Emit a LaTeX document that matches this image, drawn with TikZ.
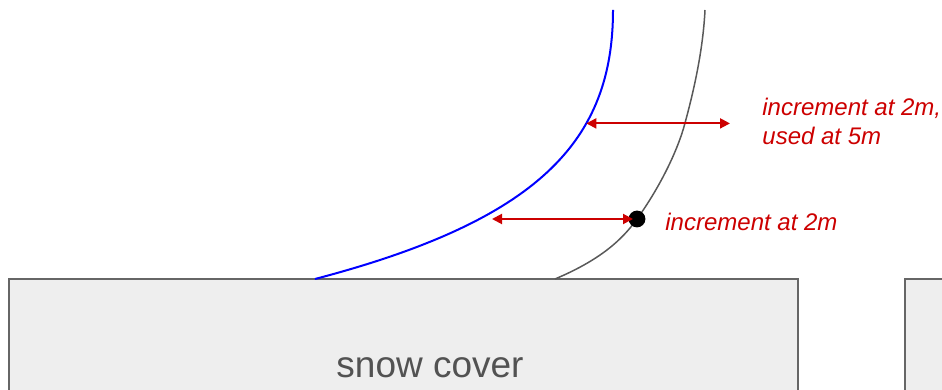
\documentclass[tikz,border=0pt]{standalone}
\usepackage{fontspec}
\setmainfont{Liberation Sans}
\usetikzlibrary{arrows.meta}
\definecolor{incred}{HTML}{CC0000}
\definecolor{boxgray}{HTML}{EEEEEE}
\definecolor{edgegray}{HTML}{666666}
\definecolor{curvegray}{HTML}{595959}
\tikzset{
  incarrow/.style={{Triangle[length=5pt,width=5pt]}-{Triangle[length=5pt,width=5pt]}, incred, line width=1pt},
  inclabel/.style={anchor=west, align=left, text=incred, font=\fontsize{12}{14.5}\selectfont\itshape, inner sep=0pt},
  snowbox/.style={fill=boxgray, draw=edgegray, line width=0.75pt}
}
\begin{document}
\begin{tikzpicture}[x=0.5pt, y=0.5pt]
  \useasboundingbox (0,0) rectangle (942,390);
  \clip (0,0) rectangle (942,390);
  % Schneedecke: zwei Kaesten
  \draw[snowbox] (9,-20) rectangle (798,111);
  \draw[snowbox] (905,-20) rectangle (960,111);
  \node[text=edgegray!80!black, font=\fontsize{18.5}{22}\selectfont] (snow) at (430,22) {snow cover};
  % Profile: blau (neu) und grau (alt)
  \draw[blue, line width=1pt] (315,111) .. controls (540,170) and (613,250) .. coordinate[pos=0.67] (blueup) (613,380);
  \draw[curvegray, line width=0.75pt] (555,111) .. controls (600,130) and (622,150) .. (637,171)
    coordinate (grayhit) .. controls (660,203) and (678,240) .. (685,267) .. controls (694,300) and (703,340) .. (705,380);
  \coordinate (bluelow) at (492,171);
  \coordinate (upend) at (730,267);
  % Pfeile und Punkt
  \fill (grayhit) circle[radius=4.2pt];
  \draw[incarrow] (bluelow) -- ([xshift=-2pt]grayhit);
  \draw[incarrow] (blueup) -- (blueup -| upend);
  \node[inclabel] (lowlabel) at (665,168) {increment at 2m};
  \node[inclabel] (uplabel) at (762,269) {increment at 2m,\\used at 5m};
\end{tikzpicture}
\end{document}
